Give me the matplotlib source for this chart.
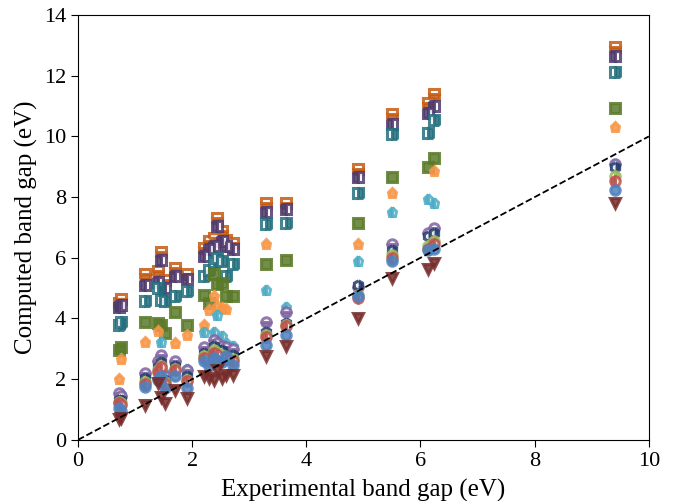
import numpy as np
import matplotlib
matplotlib.use("Agg")
import matplotlib.pyplot as plt

plt.rcParams['font.family'] = ['Liberation Serif', 'DejaVu Serif']
nan = np.nan

# experimental band gaps (eV)
exp_gap = [0.72, 0.76, 1.17, 1.41, 1.46, 1.52, 1.70, 1.91, 2.20, 2.30, 2.38,
           2.43, 2.52, 2.60, 2.72, 3.30, 3.65, 4.90, 5.50, 6.13, 6.24, 9.40]

# computed band gaps, one list per method
sq_orange = [4.50, 4.65, 5.45, 5.55, 6.20, 5.28, 5.67, 5.45, 6.33, 6.55, 6.65,
             7.30, 6.88, 6.60, 6.50, 7.79, 7.82, 8.93, 10.73, 11.10, 11.39, 12.95]
sq_purple = [4.38, 4.45, 5.12, 5.20, 5.92, 5.00, 5.40, 5.30, 6.05, 6.30, 6.40,
             7.05, 6.55, 6.40, 6.30, 7.50, 7.60, 8.67, 10.40, 10.78, 11.00, 12.65]
sq_teal = [3.80, 3.90, 4.56, 5.00, 4.60, 4.56, 4.73, 4.92, 5.39, 5.60, 5.85,
           6.00, 5.88, 5.40, 5.78, 7.10, 7.15, 8.12, 10.09, 10.12, 10.54, 12.13]
sq_olive = [2.97, 3.05, 3.87, 3.85, 3.80, 3.52, 4.23, 3.80, 4.79, 4.51, 5.45,
            5.15, 5.17, 4.73, 4.73, 5.78, 5.94, 7.15, 8.66, 9.00, 9.30, 10.95]
pent_orange = [2.01, 2.67, 3.24, 3.60, nan, nan, 3.19, 3.47, 3.80, 4.29, 4.73,
               4.40, 4.35, 4.30, nan, 6.44, nan, 6.47, 8.14, nan, 8.86, 10.30]
pent_aqua = [1.43, 1.50, 2.10, 2.50, 3.24, 2.20, 2.55, 2.35, 3.57, 3.00, 3.57,
             4.13, 3.41, 3.20, 3.10, 4.95, 4.38, 5.88, 7.50, 7.94, 7.79, 9.10]
circ_purple = [1.54, 1.45, 2.20, 2.60, 2.80, 2.09, 2.60, 2.31, 3.05, 2.90, 3.30,
               3.20, 3.10, 3.05, 3.00, 3.87, 4.23, 5.05, 6.44, 6.82, 6.98, 9.10]
hex_navy = [1.32, 1.30, 2.04, 2.40, 2.58, 1.98, 2.42, 2.09, 2.85, 2.70, 3.10,
            3.00, 2.95, 2.80, 2.80, 3.55, 3.86, 5.12, 6.27, 6.71, 6.82, 8.99]
circ_green = [1.25, 1.20, 1.90, 2.30, 2.42, 1.90, 2.35, 1.98, 2.75, 2.65, 2.95,
              2.85, 2.80, 2.70, 2.65, 3.45, 3.80, 4.79, 6.10, 6.40, 6.54, 8.69]
circ_red = [1.20, 1.15, 1.85, 2.25, 2.40, 1.85, 2.31, 1.95, 2.70, 2.60, 2.85,
            2.80, 2.70, 2.65, 2.60, 3.38, 3.76, 4.68, 6.00, 6.30, 6.45, 8.53]
circ_blue = [1.05, 0.95, 1.75, 1.98, 2.10, 1.71, 2.10, 1.72, 2.60, 2.45, 2.70,
             2.60, 2.55, 2.75, 2.48, 3.14, 3.47, 4.75, 5.88, 6.25, 6.30, 8.23]
tri_darkred = [0.68, 0.72, 1.16, 1.87, 1.40, 1.21, 1.65, 1.38, 2.09, 2.04, 1.98,
               2.30, 2.04, 2.14, 2.14, 2.75, 3.08, 4.02, 5.33, 5.63, 5.83, 7.81]

series = [
    (sq_orange, 's', 'bottom', '#c55a11'),
    (sq_purple, 's', 'left', '#4f3a6e'),
    (sq_teal, 's', 'right', '#246f7e'),
    (sq_olive, 's', 'full', '#5b7a2a'),
    (pent_orange, 'p', 'full', '#f79646'),
    (pent_aqua, 'p', 'left', '#4bacc6'),
    (circ_purple, 'o', 'bottom', '#8064a2'),
    (hex_navy, 'h', 'right', '#23406e'),
    (circ_green, 'o', 'right', '#9bbb59'),
    (circ_red, 'o', 'left', '#c0504d'),
    (circ_blue, 'o', 'full', '#4f81bd'),
    (tri_darkred, 'v', 'full', '#772c2a'),
]

fig = plt.figure(figsize=(6.78, 5.01), dpi=100)
ax = fig.add_axes([0.115, 0.122, 0.842, 0.848])

for vals, mk, fs, col in series:
    ax.plot(exp_gap, vals, linestyle='none', marker=mk, markersize=6.8,
            fillstyle=fs, color=col, markerfacecoloralt='white',
            markeredgecolor=col, markeredgewidth=2.2, alpha=0.85)

ax.plot([0, 10], [0, 10], 'k--', linewidth=1.3)

ax.set_xlim(0, 10)
ax.set_ylim(0, 14)
ax.set_xticks([0, 2, 4, 6, 8, 10])
ax.set_yticks([0, 2, 4, 6, 8, 10, 12, 14])
ax.tick_params(labelsize=16, direction='out', length=5)
ax.set_xlabel('Experimental band gap (eV)', fontsize=18, labelpad=6)
ax.set_ylabel('Computed band gap (eV)', fontsize=18, labelpad=4)

fig.savefig('out.png', dpi=100)
